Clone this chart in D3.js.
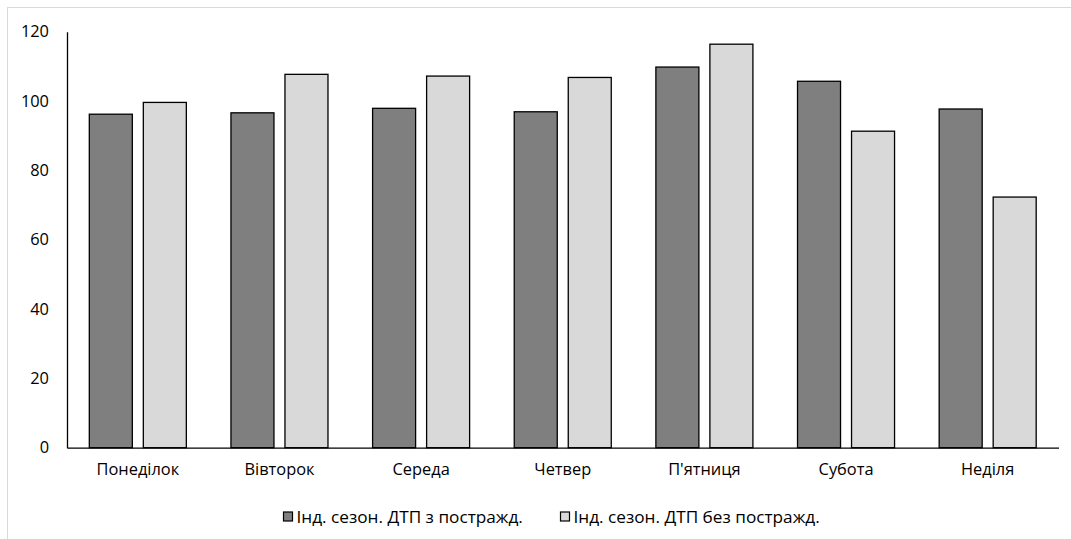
<!DOCTYPE html>
<html><head><meta charset="utf-8">
<script src="https://cdn.jsdelivr.net/npm/d3@7"></script>
<style>body{margin:0;background:#fff}svg{display:block}text{font-family:"Open Sans","Noto Sans",sans-serif;fill:#000}</style>
</head><body><svg id="c" width="1071" height="539"></svg>
<script>
const categories = ["Понеділок","Вівторок","Середа","Четвер","П'ятниця","Субота","Неділя"];
const seriesNames = ["Інд. сезон. ДТП з постражд.","Інд. сезон. ДТП без постражд."];
const withInjured = [96.2, 96.6, 97.9, 96.9, 109.8, 105.7, 97.7];
const withoutInjured = [99.6, 107.7, 107.2, 106.8, 116.4, 91.3, 72.3];
const yTicks = [0,20,40,60,80,100,120];
const colors = ["#7f7f7f","#d9d9d9"];
const FS = "16.4px";

const svg = d3.select("#c");
svg.append("rect").attr("x",7.5).attr("y",7.5).attr("width",1075).attr("height",545)
  .attr("fill","none").attr("stroke","#d9d9d9");

const L=67,R=1058.5,T=31.7,B=447.7;
const x = d3.scaleBand().domain(categories).range([L,R]).paddingInner(0).paddingOuter(0);
const x1 = d3.scaleBand().domain([0,1]).range([0,x.bandwidth()]).paddingInner(0.2037).paddingOuter(0.413);
const y = d3.scaleLinear().domain([0,120]).range([B,T]);

const data = [withInjured, withoutInjured];
data.forEach((vals,si)=>{
  svg.append("g").selectAll("rect").data(vals).join("rect")
    .attr("x",(d,i)=>x(categories[i])+x1(si))
    .attr("y",d=>y(d))
    .attr("width",x1.bandwidth())
    .attr("height",d=>B-y(d))
    .attr("fill",colors[si]).attr("stroke","#000").attr("stroke-width",1.3);
});

const ya = svg.append("g").attr("transform",`translate(${L},0)`)
  .call(d3.axisLeft(y).tickValues(yTicks).tickSize(0).tickPadding(18));
ya.attr("font-size",null).attr("font-family",null);
ya.select(".domain").attr("stroke","#000").attr("stroke-width",1.3);
ya.selectAll("text").style("font-size",FS);

const xa = svg.append("g").attr("transform",`translate(0,${B})`)
  .call(d3.axisBottom(x).tickSize(0).tickPadding(16));
xa.attr("font-size",null).attr("font-family",null);
xa.select(".domain").attr("stroke","#000").attr("stroke-width",1.3);
xa.selectAll("text").style("font-size",FS);

const legX=[283,560];
seriesNames.forEach((n,i)=>{
  const g=svg.append("g").attr("transform",`translate(${legX[i]},511.5)`);
  g.append("rect").attr("x",0.5).attr("y",0.5).attr("width",9).attr("height",9)
   .attr("fill",colors[i]).attr("stroke","#000").attr("stroke-width",1.2);
  g.append("text").attr("x",13.5).attr("y",5.2).attr("dy","0.35em").style("font-size","17.2px").text(n);
});
</script></body></html>
